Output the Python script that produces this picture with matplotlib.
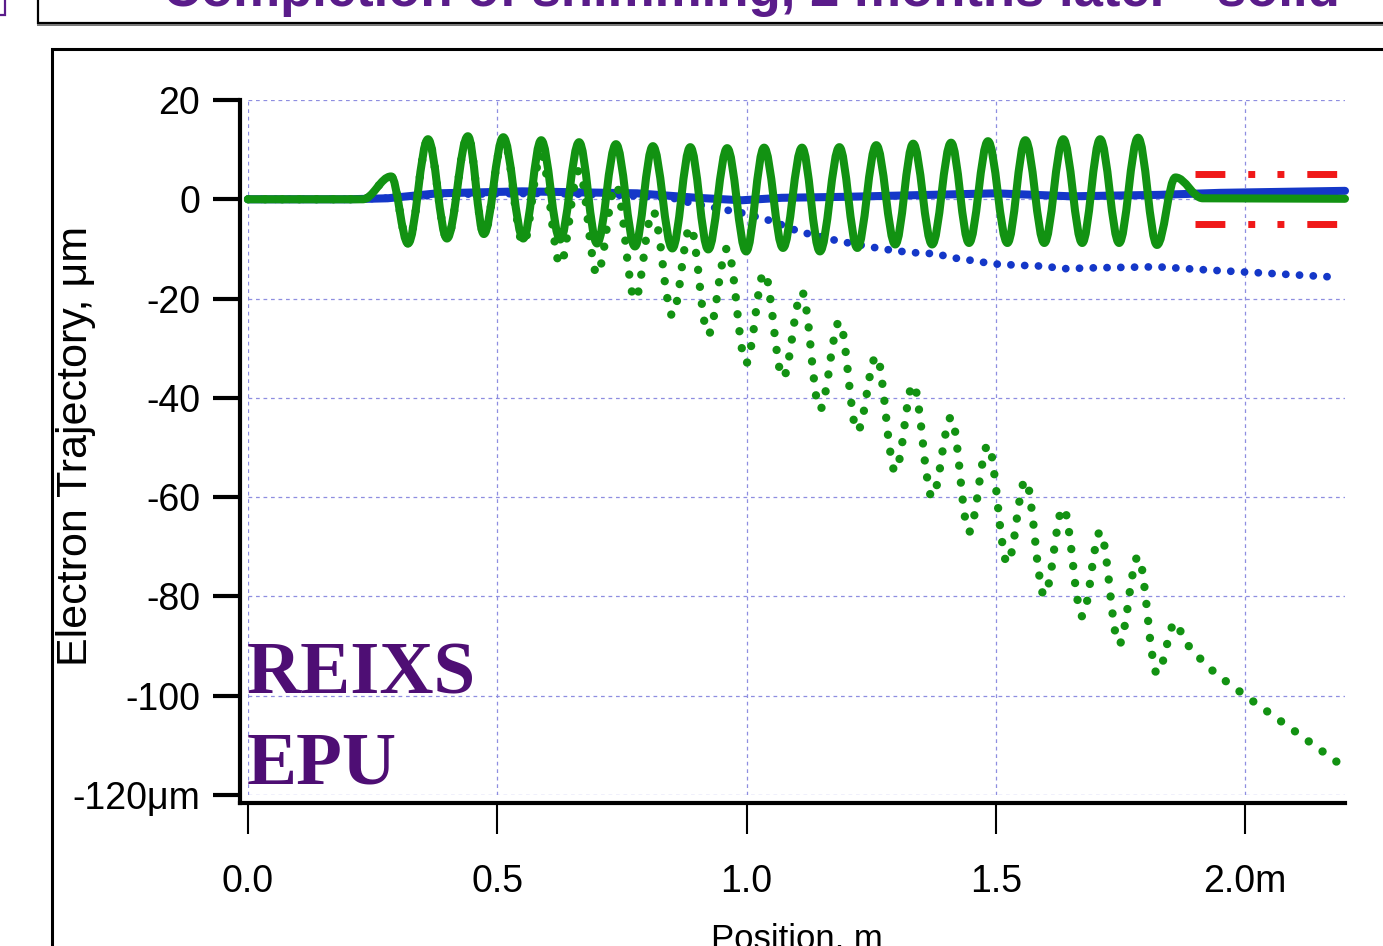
import matplotlib
matplotlib.use('Agg')
import matplotlib.pyplot as plt
from matplotlib.path import Path
from matplotlib.patches import PathPatch
from matplotlib.lines import Line2D
import numpy as np

W, H = 1383, 946

# ---------------- data ----------------
x_ticks = [0.0, 0.5, 1.0, 1.5, 2.0]
x_tick_labels = ['0.0', '0.5', '1.0', '1.5', '2.0m']
y_ticks = [-120, -100, -80, -60, -40, -20, 0, 20]
y_tick_labels = ['-120μm', '-100', '-80', '-60', '-40', '-20', '0', '20']

# Vertical trajectory after shimming (solid green): extrema positions (m) / values (um)
green_lead_x = [0.0, 0.23]
green_lead_y = [0.0, 0.0]
green_ext_x = [0.230, 0.287, 0.321, 0.361, 0.399, 0.441, 0.473, 0.512, 0.552, 0.588,
               0.626, 0.664, 0.700, 0.738, 0.776, 0.812, 0.851, 0.887, 0.923, 0.961,
               0.999, 1.035, 1.073, 1.111, 1.147, 1.186, 1.222, 1.260, 1.298, 1.334,
               1.372, 1.410, 1.446, 1.484, 1.523, 1.559, 1.597, 1.635, 1.673, 1.709,
               1.747, 1.785, 1.823, 1.860, 1.915]
green_ext_y = [0.0, 4.6, -8.9, 12.1, -7.9, 12.7, -7.0, 12.5, -7.9, 11.9,
               -8.1, 11.5, -8.9, 11.1, -9.5, 10.7, -9.9, 10.5, -10.1, 10.3,
               -10.5, 10.4, -9.8, 10.4, -10.5, 10.5, -9.8, 10.9, -9.1, 11.2,
               -9.1, 11.4, -8.8, 11.7, -8.8, 11.9, -8.8, 12.1, -8.8, 12.1,
               -8.8, 12.4, -9.2, 4.4, 0.2]
green_tail_x = [1.915, 2.2]
green_tail_y = [0.2, 0.1]

# Vertical trajectory before shimming (dotted green)
greenb_lead_x = [0.0, 0.23]
greenb_lead_y = [0.0, 0.0]
greenb_ext_x = [0.230, 0.287, 0.321, 0.361, 0.399, 0.441, 0.473, 0.512, 0.552, 0.588,
                0.626, 0.664, 0.700, 0.738, 0.776, 0.812, 0.851, 0.887, 0.923, 0.961,
                0.999, 1.035, 1.073, 1.111, 1.147, 1.186, 1.222, 1.260, 1.298, 1.334,
                1.372, 1.410, 1.446, 1.484, 1.523, 1.559, 1.597, 1.635, 1.673, 1.709,
                1.747, 1.785, 1.823, 1.860]
greenb_ext_y = [0.0, 4.6, -8.9, 12.1, -7.9, 12.7, -7.0, 12.3, -8.9, 9.0,
                -13.1, 5.8, -15.1, 2.8, -20.1, -2.4, -23.4, -5.6, -27.2, -9.9,
                -33.0, -14.8, -35.9, -18.7, -42.3, -24.7, -46.7, -31.6, -54.8, -37.3,
                -60.0, -43.9, -67.0, -49.5, -73.3, -56.6, -79.8, -62.2, -84.0, -67.0,
                -89.6, -72.0, -95.5, -85.2]
greenb_tail_x = [1.860, 1.89, 1.94, 2.0, 2.1, 2.19]
greenb_tail_y = [-85.2, -90.6, -95.5, -100.0, -107.2, -113.8]

# Horizontal trajectory after shimming (solid blue)
blue_x = [0.0, 0.2, 0.28, 0.38, 0.55, 0.78, 0.9, 0.99, 1.07, 1.2, 1.5, 1.65, 1.83, 1.95, 2.2]
blue_y = [0.0, 0.0, 0.2, 1.2, 1.6, 1.2, 0.3, -0.2, 0.3, 0.5, 1.2, 0.6, 0.9, 1.3, 1.7]

# Horizontal trajectory before shimming (dotted blue)
blueb_x = [0.0, 0.2, 0.3, 0.4, 0.6, 0.75, 0.85, 0.89, 0.941, 0.993, 1.051, 1.105, 1.188,
           1.244, 1.272, 1.326, 1.382, 1.408, 1.464, 1.492, 1.547, 1.603, 1.629, 1.7,
           1.823, 1.934, 2.044, 2.183]
blueb_y = [0.0, 0.0, 0.3, 1.0, 1.2, 0.8, 0.3, -0.8, -1.8, -2.8, -4.4, -6.5, -8.5,
           -9.5, -10.0, -10.7, -11.0, -11.7, -12.5, -13.0, -13.3, -13.5, -14.0, -13.8,
           -13.6, -14.3, -14.9, -15.7]

# Tolerance band (red dash-dot)
tol_x = [1.90, 2.185]
tol_upper = [5.0, 5.0]
tol_lower = [-5.0, -5.0]

# ---------------- figure ----------------
PURPLE = '#5a1c8a'
GREEN = '#129212'
BLUE = '#1437c8'
RED = '#f01818'
SANS = ['Liberation Sans', 'DejaVu Sans']

fig = plt.figure(figsize=(W / 100, H / 100), dpi=100)
fig.patch.set_facecolor('white')

def px(x, y):
    return (x / W, 1 - y / H)

ax = fig.add_axes([248 / W, (H - 795) / H, 1097 / W, 695 / H])
ax.set_xlim(0, 2.2)
ax.set_ylim(-120, 20)
ax.patch.set_alpha(0)

for s in ['top', 'right']:
    ax.spines[s].set_visible(False)
ax.spines['left'].set_position(('outward', 5.8))
ax.spines['bottom'].set_position(('outward', 5.8))
ax.spines['left'].set_linewidth(3)
ax.spines['bottom'].set_linewidth(3)
ax.spines['left'].set_bounds(-121.7, 20)
ax.spines['bottom'].set_bounds(-0.017, 2.2)

ax.set_xticks(x_ticks)
ax.set_xticklabels(x_tick_labels, family=SANS, fontsize=27)
ax.set_yticks(y_ticks)
ax.set_yticklabels(y_tick_labels, family=SANS, fontsize=27)
ax.tick_params(axis='x', direction='out', length=22, width=1.5, pad=22)
ax.tick_params(axis='y', direction='out', length=19.5, width=3, pad=9)

ax.grid(True, color='#8e8ee0', linestyle=(0, (3, 3)), linewidth=0.9)
ax.set_axisbelow(True)

def smooth_path(lx, ly, ex, ey, tx, ty):
    c = 1 - 2 / np.pi
    verts = [(lx[0], ly[0])]
    codes = [Path.MOVETO]
    for x, y in zip(lx[1:], ly[1:]):
        verts.append((x, y)); codes.append(Path.LINETO)
    for i in range(len(ex) - 1):
        x0, y0, x1, y1 = ex[i], ey[i], ex[i + 1], ey[i + 1]
        h = x1 - x0
        verts += [(x0 + c * h, y0), (x1 - c * h, y1), (x1, y1)]
        codes += [Path.CURVE4] * 3
    for x, y in zip(tx[1:], ty[1:]):
        verts.append((x, y)); codes.append(Path.LINETO)
    return Path(verts, codes)

# blue dotted (before)
ax.plot(blueb_x, blueb_y, color=BLUE, lw=5.6, linestyle=(0, (0.01, 1.76)),
        dash_capstyle='round', zorder=3, clip_on=False)
# blue solid (after)
ax.plot(blue_x, blue_y, color=BLUE, lw=5.8, solid_capstyle='round', zorder=4,
        clip_on=False)
# green dotted (before)
pb = PathPatch(smooth_path(greenb_lead_x, greenb_lead_y, greenb_ext_x, greenb_ext_y,
                           greenb_tail_x, greenb_tail_y),
               fill=False, edgecolor=GREEN, lw=6.0, linestyle=(0, (0.01, 2.04)),
               capstyle='round', joinstyle='round', zorder=5, clip_on=False)
ax.add_patch(pb)
# green solid (after)
pa = PathPatch(smooth_path(green_lead_x, green_lead_y, green_ext_x, green_ext_y,
                           green_tail_x, green_tail_y),
               fill=False, edgecolor=GREEN, lw=5.8, capstyle='round',
               joinstyle='round', zorder=6, clip_on=False)
ax.add_patch(pa)
# tolerance lines
for ty in (tol_upper, tol_lower):
    ax.plot(tol_x, ty, color=RED, lw=5.0, linestyle=(0, (4.3, 3.3, 1.0, 3.2, 1.0, 3.3)),
            dash_capstyle='butt', zorder=7)

# REIXS EPU label
fig.text(*px(247, 693), 'REIXS', fontsize=54, family='Liberation Serif', weight='bold',
         color='#4e0e74', va='baseline', ha='left', zorder=10)
fig.text(*px(247, 783), 'EPU', fontsize=54, family='Liberation Serif', weight='bold',
         color='#4e0e74', va='baseline', ha='left', zorder=10)

# axis labels
fig.text(*px(76, 446), 'Electron Trajectory, μm', rotation=90, ha='center', va='center',
         fontsize=31, family=SANS)
fig.text(*px(797, 948), 'Position, m', ha='center', va='baseline', fontsize=25,
         family=SANS)

# slide decorations
def fline(xs, ys, **kw):
    fig.add_artist(Line2D([x / W for x in xs], [1 - y / H for y in ys],
                          transform=fig.transFigure, **kw))

fline([52, 52, W + 5], [H + 5, 49.5, 49.5], color='black', lw=2.2, solid_joinstyle='miter')
fline([37.5, 37.5, W + 5], [-5, 23, 23], color='black', lw=1.6, solid_joinstyle='miter')
fline([38, W + 5], [25.3, 25.3], color='#777777', lw=1.4)
fline([5, 5, -5], [-5, 15, 15], color=PURPLE, lw=1.6, solid_joinstyle='miter')

fig.text(*px(163, 6), 'Completion of shimming, 2 months later - solid', fontsize=38,
         weight='bold', color=PURPLE, va='baseline', ha='left', family=SANS)

fig.savefig('out.png', dpi=100)
